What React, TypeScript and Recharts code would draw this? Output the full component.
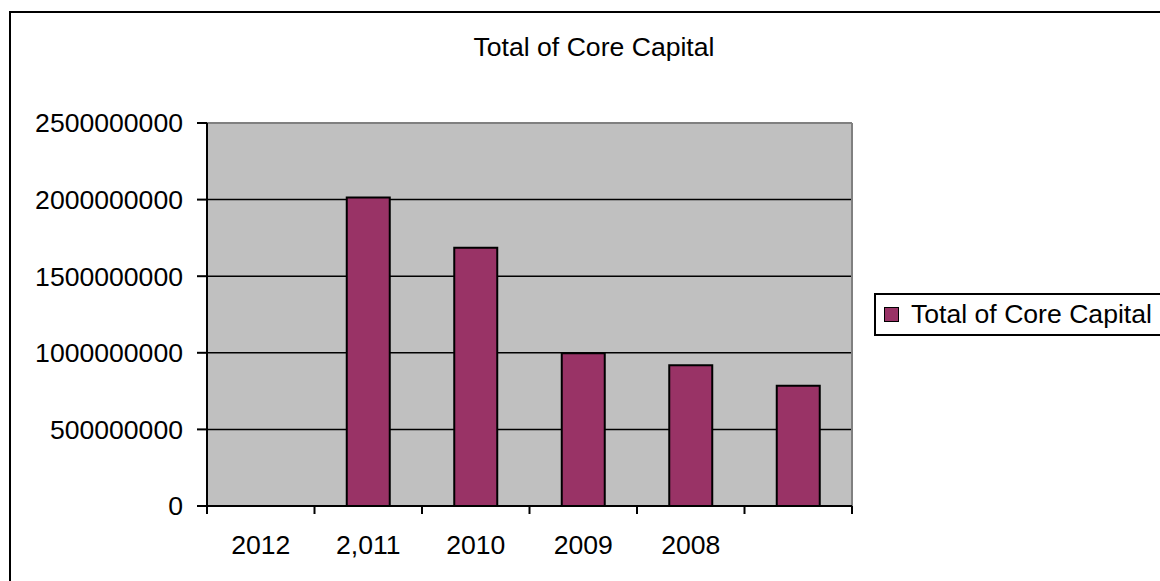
import React from 'react';
import { BarChart, Bar, XAxis, YAxis, CartesianGrid, Legend, ReferenceLine } from 'recharts';

const years = ['2012', '2,011', '2010', '2009', '2008', ''];
const coreCapital = [null, 2014000000, 1685000000, 997000000, 918000000, 785000000];
const yTicks = [0, 500000000, 1000000000, 1500000000, 2000000000, 2500000000];
const seriesName = 'Total of Core Capital';

const data = years.map((year, i) => ({ year, capital: coreCapital[i] }));

const FONT = '"Liberation Sans", Arial, Helvetica, sans-serif';
const FONT_SIZE = 26.6;
const BAR_COLOR = '#993366';
const X_TICK = 8;
const X_MARGIN = 21;

// category labels sit in the band centre, tick marks go on the band edges
const XTick = (props: any) => {
  const { x, y, payload, index, visibleTicksCount } = props;
  const half = payload?.offset ?? 0;
  const axisY = y - X_TICK - X_MARGIN;
  const last = index === (visibleTicksCount ?? years.length) - 1;
  return (
    <g>
      <line x1={x - half} x2={x - half} y1={axisY} y2={axisY + X_TICK} stroke="#000" strokeWidth={2} />
      {last && (
        <line x1={x + half} x2={x + half} y1={axisY} y2={axisY + X_TICK} stroke="#000" strokeWidth={2} />
      )}
      <text x={x} y={y} dy="0.71em" textAnchor="middle" fontSize={FONT_SIZE} fontFamily={FONT} fill="#000">
        {payload.value}
      </text>
    </g>
  );
};

const LegendBox = () => (
  <div
    style={{
      border: '2px solid #000',
      height: 39,
      display: 'flex',
      alignItems: 'center',
      paddingLeft: 8,
      background: '#fff',
      fontFamily: FONT,
      fontSize: FONT_SIZE,
      lineHeight: 1,
      whiteSpace: 'nowrap',
      boxSizing: 'content-box'
    }}
  >
    <span
      style={{
        display: 'inline-block',
        width: 13,
        height: 13,
        background: BAR_COLOR,
        border: '1.5px solid #000',
        marginRight: 12
      }}
    />
    <span>{seriesName}</span>
  </div>
);

export default function App() {
  return (
    <div
      style={{
        position: 'fixed',
        left: 0,
        top: 0,
        width: 1160,
        height: 581,
        overflow: 'hidden',
        background: '#fff',
        fontFamily: FONT
      }}
    >
      <div
        style={{
          position: 'absolute',
          left: 9,
          top: 11,
          width: 1200,
          height: 620,
          border: '2px solid #000'
        }}
      />
      <div
        style={{
          position: 'absolute',
          left: 294,
          top: 34,
          width: 600,
          textAlign: 'center',
          fontSize: FONT_SIZE,
          lineHeight: 1,
          color: '#000'
        }}
      >
        Total of Core Capital
      </div>
      <div style={{ position: 'absolute', left: 0, top: 0 }}>
        <BarChart
          width={1160}
          height={581}
          data={data}
          margin={{ top: 123, right: 308, bottom: 35, left: 0 }}
          barCategoryGap="30%"
        >
          <CartesianGrid vertical={false} stroke="#000" strokeWidth={1.5} fill="#C0C0C0" fillOpacity={1} />
          <CartesianGrid
            horizontal={false}
            stroke="#808080"
            strokeWidth={2}
            verticalCoordinatesGenerator={({ offset }: any) => [offset.left + offset.width]}
          />
          <ReferenceLine y={2500000000} stroke="#808080" strokeWidth={2} />
          <XAxis
            dataKey="year"
            height={40}
            tickSize={X_TICK}
            tickMargin={X_MARGIN}
            tickLine={false}
            axisLine={{ stroke: '#000', strokeWidth: 2 }}
            tick={<XTick />}
            interval={0}
          />
          <YAxis
            width={207}
            domain={[0, 2500000000]}
            ticks={yTicks}
            interval={0}
            tickSize={10}
            tickMargin={14}
            tickFormatter={(v: number) => String(v)}
            axisLine={{ stroke: '#000', strokeWidth: 2 }}
            tickLine={{ stroke: '#000', strokeWidth: 2 }}
            tick={{ fill: '#000', fontSize: FONT_SIZE, fontFamily: FONT }}
          />
          <Legend
            layout="horizontal"
            verticalAlign="middle"
            align="center"
            content={<LegendBox />}
            wrapperStyle={{ left: 874, top: 293, width: 320 }}
          />
          <Bar
            dataKey="capital"
            name={seriesName}
            fill={BAR_COLOR}
            stroke="#000"
            strokeWidth={2}
            isAnimationActive={false}
          />
        </BarChart>
      </div>
    </div>
  );
}
